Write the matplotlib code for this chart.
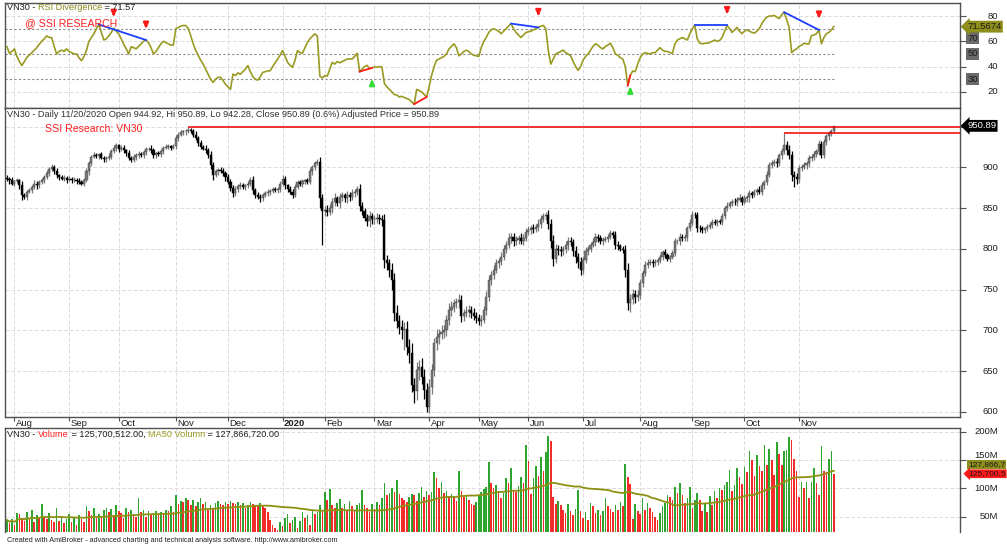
import numpy as np
import pandas as pd
import matplotlib.pyplot as plt
from matplotlib.transforms import blended_transform_factory

plt.rcParams['font.family'] = ['Liberation Sans', 'DejaVu Sans']

W, H = 1007, 548

# month labels on the date axis (bar index of the first session of each month)
months = ['Aug', 'Sep', 'Oct', 'Nov', 'Dec', '2020', 'Feb', 'Mar', 'Apr', 'May',
          'Jun', 'Jul', 'Aug', 'Sep', 'Oct', 'Nov']
month_start = [3, 25, 45, 68, 89, 111, 128, 148, 170, 190, 210, 232, 255, 276, 297, 319]

# VN30 daily closes, 29 Jul 2019 - 20 Nov 2020
close = [
    886, 884, 880, 883, 884, 878, 866, 864, 870, 872,
    876, 880, 878, 882, 884, 888, 893, 898, 901, 896,
    890, 888, 886, 887, 885, 886, 884, 885, 883, 882,
    880, 884, 895, 905, 913, 915, 914, 916, 912, 910,
    911, 913, 920, 924, 927, 922, 924, 921, 918, 912,
    909, 913, 915, 916, 915, 919, 922, 923, 921, 915,
    917, 916, 920, 924, 925, 926, 924, 926, 936, 940,
    943, 944, 945, 946, 944, 940, 936, 930, 925, 923,
    921, 915, 903, 891, 895, 897, 896, 893, 888, 882,
    875, 868, 874, 877, 878, 876, 878, 880, 884, 872,
    866, 864, 862, 866, 868, 870, 871, 873, 872, 874,
    880, 886, 878, 874, 870, 866, 876, 882, 880, 883,
    884, 882, 895, 900, 905, 907, 862, 846, 848, 845,
    850, 858, 862, 856, 864, 866, 862, 866, 864, 868,
    870, 874, 852, 846, 838, 834, 840, 836, 837, 838,
    836, 835, 786, 782, 774, 762, 721, 712, 704, 700,
    702, 680, 672, 633, 625, 651, 655, 643, 627, 606,
    631, 651, 684, 692, 695, 698, 700, 713, 725, 729,
    733, 735, 737, 717, 721, 723, 725, 721, 718, 715,
    711, 713, 725, 741, 762, 768, 774, 782, 785, 790,
    800, 805, 813, 815, 809, 811, 813, 810, 813, 821,
    823, 825, 824, 827, 830, 837, 840, 842, 830, 809,
    788, 800, 798, 797, 800, 805, 809, 808, 797, 790,
    784, 774, 786, 797, 800, 805, 808, 815, 813, 809,
    811, 812, 815, 819, 817, 805, 803, 800, 799, 774,
    733, 738, 745, 741, 743, 758, 770, 780, 783, 784,
    782, 784, 786, 790, 796, 792, 788, 790, 795, 809,
    809, 815, 813, 814, 825, 832, 842, 841, 826, 825,
    823, 825, 827, 829, 833, 832, 834, 833, 840, 850,
    853, 856, 858, 857, 860, 862, 858, 862, 863, 868,
    866, 870, 872, 870, 878, 882, 891, 903, 905, 907,
    905, 915, 920, 927, 921, 915, 891, 888, 886, 899,
    901, 903, 905, 911, 913, 916, 920, 929, 915, 931,
    938, 942, 944.92, 950.89,
]
first_open = 887

# shadow lengths above / below the candle body
upper_wick = [
    3, 2, 4, 2, 3, 2, 5, 3, 2, 3, 2, 4, 3, 2, 3, 2, 4, 3, 3, 2,
    3, 2, 2, 4, 2, 3, 2, 3, 2, 4, 2, 3, 4, 3, 2, 4, 3, 2, 3, 2,
    3, 4, 2, 3, 3, 2, 3, 4, 2, 3, 2, 3, 2, 4, 3, 2, 3, 2, 4, 3,
    2, 3, 3, 2, 4, 3, 2, 3, 4, 3, 3, 2, 2, 3, 2, 3, 4, 2, 3, 3,
    4, 3, 5, 4, 3, 2, 4, 3, 3, 4, 4, 3, 3, 2, 4, 3, 2, 3, 4, 5,
    3, 4, 3, 2, 3, 4, 2, 3, 3, 2, 3, 4, 3, 2, 3, 4, 3, 2, 3, 3,
    2, 3, 4, 3, 3, 3, 6, 5, 4, 6, 5, 4, 6, 3, 5, 4, 3, 5, 4, 6,
    4, 3, 5, 6, 4, 5, 6, 4, 5, 6, 5, 6, 8, 7, 6, 9, 8, 10, 7, 9,
    8, 10, 9, 12, 8, 10, 9, 11, 10, 8, 9, 8, 7, 9, 6, 8, 7, 6, 8, 7,
    6, 5, 7, 6, 5, 7, 6, 5, 6, 5, 5, 6, 5, 7, 6, 5, 6, 5, 4, 6,
    5, 4, 6, 5, 4, 5, 4, 6, 5, 4, 5, 4, 5, 4, 6, 5, 4, 3, 6, 7,
    8, 6, 5, 6, 4, 5, 6, 5, 4, 6, 5, 6, 4, 5, 4, 3, 5, 4, 3, 4,
    3, 4, 3, 4, 3, 5, 4, 3, 4, 6, 8, 7, 6, 5, 6, 5, 4, 5, 4, 3,
    3, 4, 3, 4, 3, 4, 3, 2, 3, 4, 3, 4, 3, 4, 3, 4, 5, 3, 4, 3,
    3, 2, 3, 4, 3, 4, 3, 3, 4, 3, 4, 3, 3, 4, 3, 5, 3, 4, 3, 4,
    3, 4, 3, 5, 4, 3, 4, 3, 4, 3, 4, 3, 4, 15, 5, 6, 5, 4, 5, 4,
    3, 4, 3, 4, 3, 4, 3, 4, 3, 4, 3, 2, 2, 0,
]
lower_wick = [
    3, 4, 2, 3, 2, 4, 6, 3, 4, 2, 3, 2, 4, 3, 2, 3, 2, 4, 3, 4,
    3, 4, 2, 3, 4, 2, 3, 2, 4, 3, 2, 3, 2, 4, 3, 2, 3, 4, 2, 3,
    4, 2, 3, 3, 4, 3, 2, 3, 4, 3, 3, 2, 4, 3, 2, 3, 4, 2, 3, 4,
    3, 2, 3, 4, 2, 3, 3, 2, 3, 4, 2, 3, 4, 3, 2, 3, 3, 4, 3, 2,
    3, 4, 5, 6, 3, 4, 3, 4, 5, 3, 4, 5, 3, 4, 3, 2, 4, 3, 3, 5,
    4, 3, 5, 3, 2, 3, 4, 3, 2, 3, 4, 3, 5, 4, 3, 4, 3, 2, 3, 4,
    3, 2, 3, 4, 3, 2, 12, 41, 6, 5, 4, 6, 5, 4, 6, 5, 4, 6, 5, 4,
    5, 4, 6, 5, 4, 6, 7, 5, 6, 5, 6, 7, 10, 8, 9, 12, 10, 9, 8, 11,
    24, 10, 12, 9, 14, 10, 12, 9, 11, 6, 8, 9, 7, 8, 9, 6, 8, 7, 6, 8,
    7, 6, 8, 7, 6, 5, 7, 6, 5, 6, 5, 6, 4, 6, 5, 6, 5, 4, 6, 5,
    4, 5, 4, 6, 5, 4, 5, 4, 5, 4, 4, 5, 4, 3, 5, 4, 4, 5, 6, 8,
    9, 6, 5, 6, 4, 5, 6, 5, 6, 7, 8, 6, 5, 4, 5, 4, 3, 4, 5, 3,
    4, 3, 4, 3, 4, 5, 4, 3, 4, 8, 8, 10, 6, 7, 5, 4, 5, 3, 4, 3,
    4, 3, 4, 3, 4, 3, 3, 4, 3, 4, 3, 4, 3, 4, 5, 3, 4, 3, 5, 4,
    3, 4, 3, 3, 4, 3, 4, 3, 4, 3, 4, 3, 4, 3, 4, 3, 4, 3, 4, 5,
    4, 3, 4, 3, 4, 5, 4, 3, 4, 3, 4, 3, 5, 4, 6, 5, 8, 12, 6, 5,
    4, 3, 5, 4, 3, 4, 3, 5, 4, 3, 3, 4, 3, 2.64,
]

# RSI divergence indicator line
rsi = [
    55.7, 50.4, 52, 54, 48, 44, 40.8, 44, 47.4, 49,
    51, 53, 55, 57.7, 60, 62, 64.3, 63, 63, 56,
    50, 52, 53, 52, 54, 52, 51, 50, 50, 47,
    44.7, 48, 52.7, 60, 63, 65.9, 70, 73.3, 67, 61,
    62, 64.3, 67, 70.4, 68, 65.9, 62, 57.7, 54, 50,
    55.7, 55, 54, 56, 58, 60, 61, 59, 55, 50,
    52, 55, 58, 60, 59, 58, 57, 57, 70, 71,
    72, 72.5, 72.5, 70, 64.3, 58, 52.7, 49, 45, 42,
    38, 34, 30, 27.5, 30, 31.5, 31.5, 29, 26, 24,
    22, 34, 33, 35, 34, 36, 38, 40.8, 36, 32,
    30, 29.3, 32, 35.4, 36, 36.5, 36.7, 40, 43, 46,
    49, 52.7, 48, 43.4, 41, 39.4, 45, 52.7, 51, 50.6,
    55, 59, 62, 64, 65.9, 64, 32.5, 31, 33, 32.5,
    38, 43.4, 42, 44, 43, 44, 45, 46, 46, 46,
    48, 50.6, 36, 38, 40, 41, 38.5, 39, 39.7, 39.5,
    40, 39.7, 26.5, 24, 22, 20, 18, 17.5, 16, 16.5,
    15.5, 14.8, 14, 12, 10.3, 22, 21, 20, 18, 16,
    24, 33, 40, 45, 46, 47, 48, 50, 54, 56,
    58, 55, 48.5, 50, 52, 53, 52, 50, 49, 48.5,
    48, 55, 60, 63, 67, 69, 70, 69, 68, 66,
    68, 70, 72, 74, 70, 67, 65, 63, 65, 67,
    67.5, 68, 69, 70, 71, 72, 72.5, 70, 52.7, 42,
    46, 50, 51, 52, 53, 51, 50, 48.5, 44, 40,
    37, 40, 45, 48, 50, 53, 56, 58, 57, 55,
    54, 56, 57, 58.5, 55, 50, 49, 47, 46, 40,
    25, 33, 36.5, 36, 42, 47, 50, 51, 50.5, 50,
    51, 51, 53, 55, 53, 52, 52, 51, 50.5, 58,
    61, 62, 63, 62, 61, 66, 70, 72.5, 62, 58.5,
    58, 58.5, 58.5, 59, 60, 61, 60, 60.7, 63, 68,
    72.5, 70, 67, 69, 71, 68, 66, 68, 69, 68,
    67, 66.5, 68, 70, 74, 77, 79, 80, 80, 80.5,
    79, 78, 81, 83, 77, 71, 51, 53, 54, 56,
    57, 58.5, 58, 58, 64.5, 65, 66, 69, 58, 63,
    66, 67, 69, 71.57,
]

# daily volume, millions of shares
volume = [
    44, 38, 46, 35, 56, 54, 48, 42, 58, 45,
    62, 40, 52, 48, 72, 50, 46, 57, 44, 40,
    66, 42, 50, 38, 45, 55, 40, 48, 36, 52,
    45, 40, 68, 60, 52, 66, 48, 55, 50, 62,
    66, 58, 64, 52, 71, 60, 56, 48, 65, 58,
    62, 55, 50, 83, 58, 62, 50, 60, 54, 56,
    60, 52, 58, 55, 62, 60, 68, 58, 88, 72,
    78, 76, 82, 80, 70, 79, 68, 75, 83, 72,
    75, 62, 70, 66, 74, 78, 72, 70, 76, 72,
    78, 74, 72, 76, 70, 74, 66, 70, 76, 72,
    70, 68, 74, 70, 66, 58, 44, 36, 30, 26,
    40, 34, 48, 54, 38, 44, 50, 30, 42, 59,
    48, 52, 36, 60, 54, 59, 70, 62, 93, 80,
    98, 70, 66, 74, 81, 66, 72, 60, 77, 68,
    62, 70, 74, 97, 70, 66, 58, 72, 64, 76,
    70, 82, 110, 88, 92, 100, 94, 114, 90, 82,
    80, 76, 85, 90, 88, 78, 92, 103, 84, 96,
    88, 94, 128, 118, 100, 112, 92, 95, 86, 90,
    84, 78, 130, 96, 84, 88, 80, 72, 70, 76,
    86, 94, 98, 102, 146, 109, 100, 105, 96, 82,
    92, 119, 110, 135, 97, 93, 104, 120, 110, 176,
    148, 90, 118, 140, 122, 155, 130, 164, 192, 184,
    85, 72, 78, 70, 62, 56, 72, 60, 52, 64,
    97, 60, 48, 58, 44, 74, 68, 56, 62, 52,
    60, 82, 68, 64, 58, 70, 62, 75, 68, 143,
    120, 108, 46, 72, 60, 54, 82, 62, 74, 66,
    58, 50, 44, 56, 68, 74, 88, 84, 80, 103,
    92, 110, 88, 74, 82, 102, 66, 80, 92, 80,
    60, 74, 58, 86, 70, 96, 83, 100, 97, 106,
    112, 133, 96, 106, 136, 120, 108, 138, 128, 165,
    150, 122, 158, 140, 130, 177, 142, 170, 150, 124,
    182, 160, 142, 165, 168, 190, 186, 151, 130, 85,
    112, 100, 112, 82, 112, 136, 110, 88, 174, 130,
    128, 152, 166, 125.7,
]

# divergence signals: (start bar, end bar)
bear_div = [(37, 56), (203, 214), (277, 290), (313, 327)]
bull_div = [(142, 147), (164, 169), (250, 251)]
extra_sell = [43]

N = len(close)
for arr in (upper_wick, lower_wick, rsi, volume):
    assert len(arr) == N, len(arr)

idx = np.arange(N)
c = np.array(close, float)
o = np.concatenate([[first_open], c[:-1]])
hi = np.maximum(o, c) + np.array(upper_wick, float)
lo = np.minimum(o, c) - np.array(lower_wick, float)
r = np.array(rsi, float)
v = np.array(volume, float)
ma50 = pd.Series(v).rolling(50, min_periods=1).mean().values

fig = plt.figure(figsize=(W / 100, H / 100), dpi=100, facecolor='white')
renderer = fig.canvas.get_renderer()


def pane(top, bottom):
    ax = fig.add_axes([5 / W, 1 - bottom / H, 955 / W, (bottom - top) / H])
    ax.set_xlim(-0.8, 383.8)
    for s in ax.spines.values():
        s.set_color('#505050')
        s.set_linewidth(1.0)
    ax.tick_params(axis='y', left=False, right=True, labelleft=False, labelright=False,
                   length=4, color='#505050')
    ax.tick_params(axis='x', bottom=False, labelbottom=False)
    ax.set_xticks(month_start)
    ax.grid(True, color='#dcdcdc', linestyle=(0, (4, 2)), linewidth=0.7)
    ax.set_axisbelow(True)
    return ax


def right_labels(ax, values, labels, x_px=998, size=6.8, va='center'):
    tr = blended_transform_factory(fig.transFigure, ax.transData)
    for val, lab in zip(values, labels):
        ax.text(x_px / W, val, lab, transform=tr, ha='right', va=va,
                fontsize=size, color='#202020', clip_on=False)


def label_box(ax, val, text, fc, tc, style='larrow', x_px=967, size=6.5, z=5, pad=0.15):
    tr = blended_transform_factory(fig.transFigure, ax.transData)
    ax.text(x_px / W, val, text, transform=tr, ha='left', va='center', fontsize=size,
            color=tc, clip_on=False, zorder=z,
            bbox=dict(boxstyle=f'{style},pad={pad}', fc=fc, ec='none'))


def multi_text(x_px, y_px, parts, size):
    x = x_px
    base = fig.text(0, 0, '||', fontsize=size)
    wbase = base.get_window_extent(renderer).width
    base.remove()
    for s, col in parts:
        fig.text(x / W, 1 - y_px / H, s, fontsize=size, color=col, ha='left', va='center')
        m = fig.text(0, 0, '|' + s + '|', fontsize=size)
        x += m.get_window_extent(renderer).width - wbase
        m.remove()


def arrow(ax, x, y_tip, y_tail, color):
    ax.annotate('', xy=(x, y_tip), xytext=(x, y_tail),
                arrowprops=dict(arrowstyle='-|>', color=color, lw=1.8, mutation_scale=7),
                annotation_clip=False)


# ---------------- RSI pane ----------------
ax_r = pane(3, 108)
ax_r.set_ylim(7.27, 90.28)
ax_r.set_yticks([20, 40, 60, 80])
ax_r.hlines([30, 50, 70], -0.8, N - 1, colors='#8a8a8a', linestyles=(0, (2, 2)), linewidth=0.8)
ax_r.plot(idx, r, color='#9a9a22', linewidth=1.2, zorder=3)
for a, b in bear_div:
    ax_r.plot([a, b], [r[a], r[b]], color='#1f3fff', linewidth=1.3, zorder=4)
    arrow(ax_r, b, r[b] + 7, r[b] + 14, '#ff1a1a')
for b in extra_sell:
    arrow(ax_r, b, r[b] + 7, r[b] + 14, '#ff1a1a')
for a, b in bull_div:
    ax_r.plot([a, b], [r[a], r[b]], color='#ff1a1a', linewidth=1.3, zorder=4)
    arrow(ax_r, b, r[b] - 7, r[b] - 14, '#33dd33')
right_labels(ax_r, [20, 40, 60, 80], ['20', '40', '60', '80'])
tr_r = blended_transform_factory(fig.transFigure, ax_r.transData)
for val, lab in [(62.5, '70'), (50, '50'), (30, '30')]:
    ax_r.text(972.5 / W, val, lab, transform=tr_r, ha='center', va='center', fontsize=6.8,
              color='#1a1a1a', clip_on=False,
              bbox=dict(boxstyle='square,pad=0.15', fc='#6a6a6a', ec='none'))
label_box(ax_r, r[-1], '71.5674', '#8e8e1c', '#1a1a1a', size=6.8)

# ---------------- price pane ----------------
ax_p = pane(108, 417)
ax_p.set_ylim(593.6, 972.8)
ax_p.set_yticks([600, 650, 700, 750, 800, 850, 900, 950])
up = c >= o
col = np.where(up, '#7a7a7a', '#000000')
ax_p.vlines(idx, lo, hi, colors=col, linewidth=0.9, zorder=3)
ax_p.bar(idx, np.maximum(np.abs(c - o), 1.0), bottom=np.minimum(o, c), width=0.85,
         color=col, edgecolor=np.where(up, '#3a3a3a', '#000000'), linewidth=0.3, zorder=3)
ax_p.hlines(hi[73], 73, 383.8, colors='#ee0000', linewidth=1.1, zorder=4)
ax_p.hlines(hi[313], 313, 383.8, colors='#ee0000', linewidth=1.1, zorder=4)
right_labels(ax_p, [600, 650, 700, 750, 800, 850, 900],
             ['600', '650', '700', '750', '800', '850', '900'])
label_box(ax_p, c[-1], '950.89', '#000000', 'white', size=6.8)
ax_p.tick_params(axis='x', bottom=True, length=3, color='#505050', direction='out')
trx = blended_transform_factory(ax_p.transData, ax_p.transAxes)
for m, s in zip(months, month_start):
    ax_p.text(s + 0.6, -2.0 / 309, m, transform=trx, ha='left', va='top', fontsize=6.8,
              color='#202020', fontweight='bold' if m == '2020' else 'normal', clip_on=False)

# ---------------- volume pane ----------------
ax_v = pane(428, 532)
ax_v.spines['bottom'].set_visible(False)
ax_v.set_ylim(22.8, 206.5)
ax_v.set_yticks([50, 100, 150, 200])
vup = np.concatenate([[True], v[1:] > v[:-1]])
vcol = np.where(vup, '#2fa52f', '#f52a2a')
ax_v.bar(idx, v - 22.8, bottom=22.8, width=0.65, color=vcol, linewidth=0, zorder=2)
ax_v.plot(idx, ma50, color='#8f8f14', linewidth=1.3, zorder=3)
right_labels(ax_v, [50, 100, 200], ['50M', '100M', '200M'])
# 150M sits just above the stacked last-value flags
right_labels(ax_v, [150], ['150M'], va='bottom')
# last-value flags, cut at the window edge as in AmiBroker
label_box(ax_v, 141.6, '127,866,7', '#8e8e1c', '#1a1a1a', style='square',
          x_px=968, size=6.0, z=6, pad=0.1)
label_box(ax_v, v[-1], '125,700,5', '#ff1a1a', '#1a1a1a',
          x_px=968, size=6.0, z=6, pad=0.1)

# ---------------- titles ----------------
multi_text(7, 8, [('VN30 - ', '#202020'), ('RSI Divergence', '#8a8a1a'),
                  (' = 71.57', '#202020')], 6.6)
fig.text(25 / W, 1 - 23 / H, '@ SSI RESEARCH', fontsize=7.6, color='#ff2020', va='center')
fig.text(7 / W, 1 - 114.5 / H,
         'VN30 - Daily 11/20/2020 Open 944.92, Hi 950.89, Lo 942.28, Close 950.89 (0.6%) '
         'Adjusted Price = 950.89', fontsize=6.6, color='#303030', va='center')
fig.text(45 / W, 1 - 128.5 / H, 'SSI Research: VN30', fontsize=7.6, color='#ff2020', va='center')
multi_text(7, 434.5, [('VN30 - ', '#202020'), ('Volume', '#ff2020'),
                      (' = 125,700,512.00, ', '#202020'), ('MA50 Volumn', '#9a9a22'),
                      (' = 127,866,720.00', '#202020')], 6.6)
fig.text(7 / W, 1 - 540 / H,
         'Created with AmiBroker - advanced charting and technical analysis software. '
         'http://www.amibroker.com', fontsize=5.2, color='#202020', va='center')

fig.savefig('out.png', dpi=100, facecolor='white')
